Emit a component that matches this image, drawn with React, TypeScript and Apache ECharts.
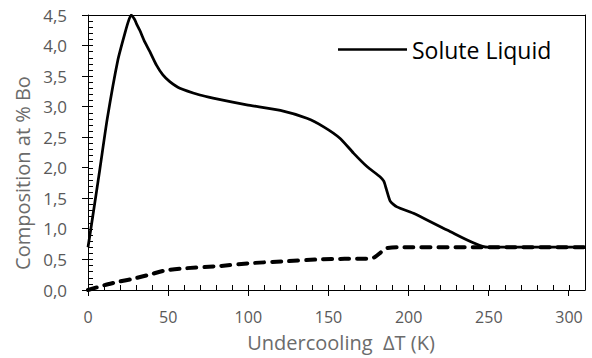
import React, { useEffect, useRef } from "react";
import * as echarts from "echarts";

const liquidX = [0, 3, 7.3, 12, 18.6, 23, 25.5, 27, 29, 30.2, 32.3, 35.4, 38.6, 42.7, 46.7, 51, 57.3, 69.8, 78, 99, 120, 136.5, 147, 157.3, 165.6, 174, 182.3, 184.5, 186, 188.6, 192.7, 203, 224, 249, 310];
const liquidY = [0.7, 1.21, 1.96, 2.8, 3.76, 4.2, 4.42, 4.5, 4.43, 4.36, 4.25, 4.06, 3.9, 3.68, 3.52, 3.41, 3.3, 3.19, 3.14, 3.03, 2.94, 2.81, 2.67, 2.48, 2.24, 2.02, 1.85, 1.78, 1.66, 1.45, 1.36, 1.255, 0.98, 0.7, 0.7];

const solidX = [0, 10.4, 20, 29.2, 39.6, 48, 60.4, 81.2, 102, 123, 143.8, 160, 176, 179, 182, 185.4, 192.7, 250, 310];
const solidY = [0, 0.08, 0.14, 0.19, 0.26, 0.32, 0.355, 0.39, 0.44, 0.47, 0.5, 0.51, 0.51, 0.54, 0.6, 0.68, 0.7, 0.7, 0.7];

const xMajorTicks = [0, 50, 100, 150, 200, 250, 300];
const yMajorTicks = [0, 0.5, 1, 1.5, 2, 2.5, 3, 3.5, 4, 4.5];

const xMin = 0;
const xMax = 310;
const xMajor = 50;
const xMinor = 10;
const xLabelMax = 300;
const yMin = 0;
const yMax = 4.5;
const yMajor = 0.5;
const yMinor = 0.1;

const xTitle = "Undercooling  ΔT (K)";
const yTitle = "Composition at % Bo";
const legendName = "Solute Liquid";

const FONT = "Open Sans";

export default function App() {
  const ref = useRef<HTMLDivElement>(null);
  useEffect(() => {
    if (!ref.current) return;
    const chart = echarts.init(ref.current, null, { renderer: "svg" });
    const isMult = (v: number, m: number) => Math.abs(v / m - Math.round(v / m)) < 1e-6;
    const fmtX = (v: number) => (isMult(v, xMajor) && v <= xLabelMax ? String(Math.round(v)) : "");
    const fmtY = (v: number) => (isMult(v, yMajor) ? v.toFixed(1).replace(".", ",") : "");
    const crisp = (v: number) => Math.floor(v) + 0.5;
    const gridBox = { left: 88, right: 7, top: 15, bottom: 68, containLabel: false };
    chart.setOption({
      animation: false,
      grid: [{ ...gridBox }, { ...gridBox }],
      legend: {
        data: [legendName],
        left: 338,
        top: 38,
        padding: 0,
        icon: "rect",
        itemWidth: 69,
        itemHeight: 2.5,
        textStyle: { fontSize: 23, color: "#000", fontFamily: FONT },
      },
      xAxis: [
        {
          gridIndex: 0,
          type: "value",
          min: xMin,
          max: xMax,
          interval: xMinor,
          axisLine: { show: true, onZero: false, lineStyle: { color: "#000", width: 1 } },
          axisTick: { show: true, inside: true, length: 5, lineStyle: { color: "#000", width: 1 } },
          axisLabel: { formatter: fmtX, margin: 19, fontSize: 16, color: "#595959", fontFamily: FONT },
          splitLine: { show: false },
        },
        {
          gridIndex: 1,
          type: "value",
          min: xMin,
          max: xMax,
          position: "top",
          axisLine: { show: true, onZero: false, lineStyle: { color: "#000", width: 1 } },
          axisTick: { show: false },
          axisLabel: { show: false },
          splitLine: { show: false },
        },
      ],
      yAxis: [
        {
          gridIndex: 0,
          type: "value",
          min: yMin,
          max: yMax,
          interval: yMinor,
          axisLine: { show: true, onZero: false, lineStyle: { color: "#000", width: 1 } },
          axisTick: { show: true, inside: true, length: 5, lineStyle: { color: "#000", width: 1 } },
          axisLabel: { formatter: fmtY, margin: 21, fontSize: 17, color: "#595959", fontFamily: FONT },
          splitLine: { show: false },
        },
        {
          gridIndex: 1,
          type: "value",
          min: yMin,
          max: yMax,
          position: "right",
          axisLine: { show: true, onZero: false, lineStyle: { color: "#000", width: 1 } },
          axisTick: { show: false },
          axisLabel: { show: false },
          splitLine: { show: false },
        },
      ],
      graphic: [
        {
          type: "text",
          x: 341,
          y: 342,
          style: {
            text: xTitle,
            fontSize: 20,
            fontFamily: FONT,
            fill: "#6b6b6b",
            align: "center",
            verticalAlign: "middle",
          },
        },
        {
          type: "text",
          x: 22,
          y: 173,
          rotation: Math.PI / 2,
          style: {
            text: yTitle,
            fontSize: 20,
            fontFamily: FONT,
            fill: "#6b6b6b",
            align: "center",
            verticalAlign: "middle",
          },
        },
      ],
      series: [
        {
          name: "Solute Solid",
          type: "line",
          xAxisIndex: 0,
          yAxisIndex: 0,
          data: solidX.map((x, i) => [x, solidY[i]]),
          showSymbol: false,
          smooth: 0.2,
          lineStyle: { color: "#000", width: 4, type: [9, 8], cap: "round" },
          z: 2,
        },
        {
          name: legendName,
          type: "line",
          xAxisIndex: 0,
          yAxisIndex: 0,
          data: liquidX.map((x, i) => [x, liquidY[i]]),
          showSymbol: false,
          smooth: 0.2,
          color: "#000",
          lineStyle: { color: "#000", width: 2.75 },
          z: 3,
        },
        {
          name: "xMajorTicks",
          type: "custom",
          xAxisIndex: 0,
          yAxisIndex: 0,
          silent: true,
          clip: false,
          z: 5,
          data: xMajorTicks.map((v) => [v, yMin]),
          renderItem: (params: any, api: any) => {
            const p = api.coord([api.value(0), api.value(1)]);
            const x = crisp(p[0]);
            return {
              type: "line",
              shape: { x1: x, y1: p[1], x2: x, y2: p[1] + 6 },
              style: { stroke: "#000", lineWidth: 1 },
            };
          },
        },
        {
          name: "yMajorTicks",
          type: "custom",
          xAxisIndex: 0,
          yAxisIndex: 0,
          silent: true,
          clip: false,
          z: 5,
          data: yMajorTicks.map((v) => [xMin, v]),
          renderItem: (params: any, api: any) => {
            const p = api.coord([api.value(0), api.value(1)]);
            const y = crisp(p[1]);
            return {
              type: "line",
              shape: { x1: p[0] - 6, y1: y, x2: p[0], y2: y },
              style: { stroke: "#000", lineWidth: 1 },
            };
          },
        },
      ],
    });
    return () => chart.dispose();
  }, []);
  return <div ref={ref} style={{ width: 592, height: 358, position: "absolute", left: 0, top: 0 }} />;
}
